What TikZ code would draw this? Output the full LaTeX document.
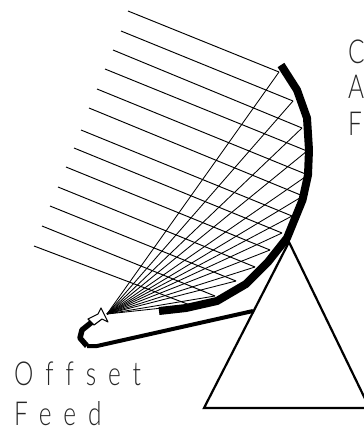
\documentclass[tikz,border=0pt]{standalone}
\usepackage{fontspec}
\newfontfamily\vecfont[LetterSpace=36,FakeStretch=0.74,Ligatures=NoCommon]{Lato Light}
\tikzset{
  ray/.style={draw=black,line width=0.95pt},
  fan/.style={draw=black,line width=0.85pt},
  dish/.style={draw=black,line width=8pt,line join=round},
  guide/.style={draw=black,line width=4pt,line join=round},
  guidebend/.style={draw=black,line width=5.5pt,line join=round},
  mast/.style={draw=black,line width=2.2pt,line join=miter},
  horn/.style={draw=black,fill=white,line width=1.1pt,line join=round},
  lab/.style={font=\vecfont\fontsize{33}{33}\selectfont,inner sep=0pt,anchor=base west,text=black!85}
}
\begin{document}
\begin{tikzpicture}[x=1pt,y=-1pt]
\path[use as bounding box] (0,0) rectangle (364,429);
\clip (0,0) rectangle (364,429);
\coordinate (f) at (107,314);
\foreach \n/\sx/\sy/\ex/\ey in {
 a/128/11/279/72, b/121/31/293/101, c/113/50/302/128, d/105/69/307/151,
 e/97/89/308/175, g/89/108/303/196, h/81/130/292/216, i/74/148/282/233,
 j/66/167/270/250, k/58/187/255/267, l/50/206/236/281, m/42/226/215/296, n/34/246/190/305}{
  \coordinate (s\n) at (\sx,\sy);
  \coordinate (e\n) at (\ex,\ey);
  \draw[ray] (s\n) -- (e\n);
  \draw[fan] (e\n) -- (f);
}
\coordinate (apex) at (289,242);
\coordinate (bl) at (204,408);
\coordinate (br) at (369.5,408);
\draw[mast] (bl) -- (apex) -- (br) -- cycle;
\draw[dish] (281,65) -- (297,90) -- (307,118) -- (309,150) -- (308,175) -- (302.5,200) -- (287,238) -- (268,262) -- (246,284) -- (217,301) -- (186,308) -- (159,311);
\coordinate (wgend) at (253,311);
\coordinate (hornback) at (92,322);
\draw[guidebend] (hornback) -- (82,330) -- (80,338) -- (87,346);
\draw[guide] (87,346) -- (97,346) -- (wgend);
\draw[horn] (101,308) -- (108,322) -- (102,319) -- (94,325) -- (88,319) -- (98,314) -- cycle;
\node[lab] (t1) at (14,385) {Offset};
\node[lab] (t2) at (14,425) {Feed};
\node[lab] (t3) at (348,63) {C};
\node[lab] (t4) at (348,98) {A};
\node[lab] (t5) at (348,135) {F};
\end{tikzpicture}
\end{document}
